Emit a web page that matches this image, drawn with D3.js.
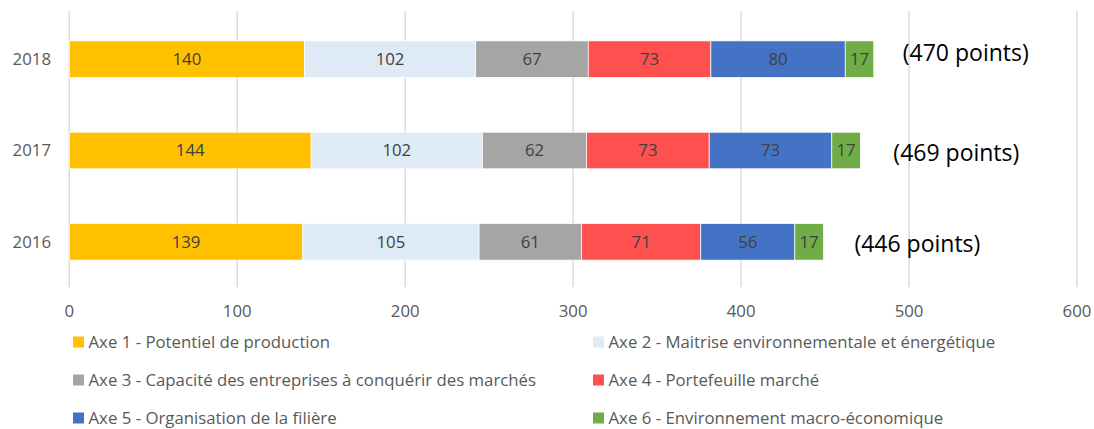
<!DOCTYPE html>
<html>
<head>
<meta charset="utf-8">
<script src="https://cdn.jsdelivr.net/npm/d3@7"></script>
<style>
  body { margin: 0; background: #fff; }
  text { font-family: "Open Sans", sans-serif; }
</style>
</head>
<body>
<div id="chart"></div>
<script>
const years = ['2018', '2017', '2016']
const series = [
  'Axe 1 - Potentiel de production',
  'Axe 2 - Maitrise environnementale et énergétique',
  'Axe 3 - Capacité des entreprises à conquérir des marchés',
  'Axe 4 - Portefeuille marché',
  'Axe 5 - Organisation de la filière',
  'Axe 6 - Environnement macro-économique'
]
const axe1 = [140, 144, 139]
const axe2 = [102, 102, 105]
const axe3 = [67, 62, 61]
const axe4 = [73, 73, 71]
const axe5 = [80, 73, 56]
const axe6 = [17, 17, 17]
const totalLabels = ['(470 points)', '(469 points)', '(446 points)']
const xTicks = [0, 100, 200, 300, 400, 500, 600]
const colors = ['#FFC000', '#DEEBF7', '#A5A5A5', '#FF5050', '#4472C4', '#70AD47']

const width = 1094, height = 429
const left = 69.3, right = 1077
const fs = 16.8

// table for d3.stack
const rows = years.map((y, i) => {
  const r = { year: y }
  ;[axe1, axe2, axe3, axe4, axe5, axe6].forEach((arr, k) => r[series[k]] = arr[i])
  return r
})
const stacked = d3.stack().keys(series)(rows)

const x = d3.scaleLinear().domain([0, 600]).range([left, right])
const y = d3.scaleBand().domain(years).range([13.5, 287.5]).paddingInner(0.6).paddingOuter(0.3)

const svg = d3.select('#chart').append('svg')
  .attr('width', width).attr('height', height)

// gridlines
svg.append('g').selectAll('line')
  .data(xTicks)
  .join('line')
    .attr('x1', d => x(d)).attr('x2', d => x(d))
    .attr('y1', 11).attr('y2', 287)
    .attr('stroke', '#D9D9D9').attr('stroke-width', 1.4)

// bars
const groups = svg.append('g').selectAll('g')
  .data(stacked)
  .join('g')
    .attr('fill', (d, i) => colors[i])

groups.selectAll('rect')
  .data(d => d)
  .join('rect')
    .attr('x', d => x(d[0]))
    .attr('width', d => x(d[1]) - x(d[0]))
    .attr('y', d => y(d.data.year))
    .attr('height', y.bandwidth())
    .attr('stroke', '#fff').attr('stroke-width', 0.7)

groups.selectAll('text')
  .data(d => d)
  .join('text')
    .attr('x', d => (x(d[0]) + x(d[1])) / 2)
    .attr('y', d => y(d.data.year) + y.bandwidth() / 2)
    .attr('dy', '0.35em')
    .attr('text-anchor', 'middle')
    .attr('font-size', fs)
    .attr('fill', '#404040')
    .text(d => d[1] - d[0])

// year labels
svg.append('g').selectAll('text')
  .data(years)
  .join('text')
    .attr('x', 51)
    .attr('y', d => y(d) + y.bandwidth() / 2)
    .attr('dy', '0.35em')
    .attr('text-anchor', 'end')
    .attr('font-size', fs)
    .attr('fill', '#595959')
    .text(d => d)

// x tick labels
svg.append('g').selectAll('text')
  .data(xTicks)
  .join('text')
    .attr('x', d => x(d))
    .attr('y', 311.5)
    .attr('dy', '0.35em')
    .attr('text-anchor', 'middle')
    .attr('font-size', fs)
    .attr('fill', '#595959')
    .text(d => d)

// total annotations, hand placed text boxes next to the bar ends
const dxs = [29, 33, 31]
const dys = [-6, 2, 2]
svg.append('g').selectAll('text')
  .data(stacked[stacked.length - 1])
  .join('text')
    .attr('x', (d, i) => x(d[1]) + dxs[i])
    .attr('y', (d, i) => y(d.data.year) + y.bandwidth() / 2 + dys[i])
    .attr('dy', '0.35em')
    .attr('font-size', 23)
    .attr('fill', '#000')
    .text((d, i) => totalLabels[i])

// legend (last row nudged up a bit so it is not clipped)
const legend = svg.append('g').selectAll('g')
  .data(series)
  .join('g')
    .attr('transform', (d, i) => `translate(${i % 2 ? 593 : 73},${342 + Math.floor(i / 2) * 38})`)
legend.append('rect')
  .attr('x', 0).attr('y', -5.5).attr('width', 11).attr('height', 11)
  .attr('fill', (d, i) => colors[i])
legend.append('text')
  .attr('x', 15.5).attr('dy', '0.35em')
  .attr('font-size', fs)
  .attr('fill', '#595959')
  .text(d => d)
</script>
</body>
</html>
